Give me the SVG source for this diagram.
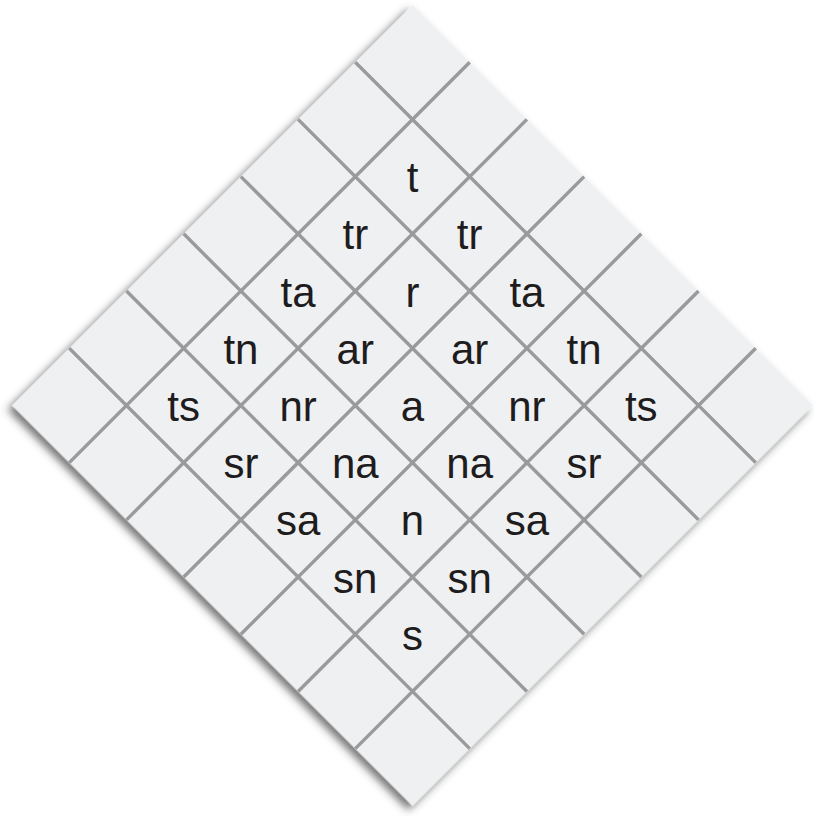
<svg xmlns="http://www.w3.org/2000/svg" width="814" height="816" viewBox="0 0 814 816">
  <defs>
    <filter id="shadow" x="-10%" y="-10%" width="120%" height="120%">
      <feDropShadow dx="0" dy="6" stdDeviation="4" flood-color="#444" flood-opacity="0.75"/>
    </filter>
    <style>
      .board { fill: #eff0f2; }
      .grid line { stroke: #9a9a9c; stroke-width: 3.4; }
      .lbl { font-family: "Liberation Sans", Arial, Helvetica, sans-serif; font-size: 42px; fill: #1e1c1d; text-anchor: middle; }
    </style>
  </defs>
  <rect width="814" height="816" fill="#ffffff"/>
  <g id="board" transform="translate(412.5,5) rotate(45)">
    <rect class="board" x="0" y="0" width="566.3" height="566.3" filter="url(#shadow)"/>
  </g>
  <g id="connectors" class="grid" transform="translate(412.5,5) rotate(45)">
    <line x1="80.9" y1="0" x2="80.9" y2="566.3"/>
    <line x1="161.8" y1="0" x2="161.8" y2="566.3"/>
    <line x1="242.7" y1="0" x2="242.7" y2="566.3"/>
    <line x1="323.6" y1="0" x2="323.6" y2="566.3"/>
    <line x1="404.5" y1="0" x2="404.5" y2="566.3"/>
    <line x1="485.4" y1="0" x2="485.4" y2="566.3"/>
    <line y1="80.9" x1="0" y2="80.9" x2="566.3"/>
    <line y1="161.8" x1="0" y2="161.8" x2="566.3"/>
    <line y1="242.7" x1="0" y2="242.7" x2="566.3"/>
    <line y1="323.6" x1="0" y2="323.6" x2="566.3"/>
    <line y1="404.5" x1="0" y2="404.5" x2="566.3"/>
    <line y1="485.4" x1="0" y2="485.4" x2="566.3"/>
  </g>
  <g id="n-1-1"><text class="lbl" x="412.5" y="192">t</text></g>
  <g id="n-2-1"><text class="lbl" x="355.3" y="249">tr</text></g>
  <g id="n-1-2"><text class="lbl" x="469.7" y="249">tr</text></g>
  <g id="n-3-1"><text class="lbl" x="298.1" y="306.5">ta</text></g>
  <g id="n-2-2"><text class="lbl" x="412.5" y="306.5">r</text></g>
  <g id="n-1-3"><text class="lbl" x="526.9" y="306.5">ta</text></g>
  <g id="n-4-1"><text class="lbl" x="240.9" y="363.7">tn</text></g>
  <g id="n-3-2"><text class="lbl" x="355.3" y="363.7">ar</text></g>
  <g id="n-2-3"><text class="lbl" x="469.7" y="363.7">ar</text></g>
  <g id="n-1-4"><text class="lbl" x="584.1" y="363.7">tn</text></g>
  <g id="n-5-1"><text class="lbl" x="183.7" y="421">ts</text></g>
  <g id="n-4-2"><text class="lbl" x="298.1" y="421">nr</text></g>
  <g id="n-3-3"><text class="lbl" x="412.5" y="421">a</text></g>
  <g id="n-2-4"><text class="lbl" x="526.9" y="421">nr</text></g>
  <g id="n-1-5"><text class="lbl" x="641.3" y="421">ts</text></g>
  <g id="n-5-2"><text class="lbl" x="240.9" y="478">sr</text></g>
  <g id="n-4-3"><text class="lbl" x="355.3" y="478">na</text></g>
  <g id="n-3-4"><text class="lbl" x="469.7" y="478">na</text></g>
  <g id="n-2-5"><text class="lbl" x="584.1" y="478">sr</text></g>
  <g id="n-5-3"><text class="lbl" x="298.1" y="535">sa</text></g>
  <g id="n-4-4"><text class="lbl" x="412.5" y="535">n</text></g>
  <g id="n-3-5"><text class="lbl" x="526.9" y="535">sa</text></g>
  <g id="n-5-4"><text class="lbl" x="355.3" y="592.5">sn</text></g>
  <g id="n-4-5"><text class="lbl" x="469.7" y="592.5">sn</text></g>
  <g id="n-5-5"><text class="lbl" x="412.5" y="649.7">s</text></g>
</svg>
